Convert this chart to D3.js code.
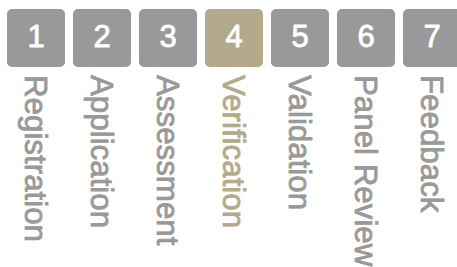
<!DOCTYPE html>
<html>
<head>
<meta charset="utf-8">
<script src="https://cdn.jsdelivr.net/npm/d3@7"></script>
<style>
  html, body { margin: 0; padding: 0; background: #fff; overflow: hidden; }
  svg { display: block; }
</style>
</head>
<body>
<script>
const stepNumbers = ["1", "2", "3", "4", "5", "6", "7"];
const stepLabels = ["Registration", "Application", "Assessment", "Verification", "Validation", "Panel Review", "Feedback"];
const activeStep = "4";

const W = 457, H = 267;
const boxTop = 9, boxSize = 58;
const fontSize = 31;
const labelSize = 31.3;
const capH = fontSize * 0.716;

const svg = d3.select("body").append("svg").attr("width", W).attr("height", H);

const x = d3.scaleBand()
  .domain(stepNumbers)
  .range([7, 7 + stepNumbers.length * 66 - 8])
  .paddingInner(8 / 66)
  .paddingOuter(0);

const grey = "#999999", tan = "#b4a98b";
const colorOf = d => d === activeStep ? tan : grey;

const g = svg.selectAll("g.step").data(stepNumbers.map((n, i) => ({ n, label: stepLabels[i] })))
  .enter().append("g").attr("class", "step");

g.append("rect")
  .attr("x", d => x(d.n))
  .attr("y", boxTop)
  .attr("width", x.bandwidth())
  .attr("height", boxSize)
  .attr("rx", 5).attr("ry", 5)
  .attr("fill", d => colorOf(d.n));

g.append("text")
  .attr("x", d => x(d.n) + x.bandwidth() / 2)
  .attr("y", boxTop + boxSize / 2 + capH / 2 - 2)
  .attr("text-anchor", "middle")
  .attr("font-family", "'Liberation Sans', Arial, Helvetica, sans-serif")
  .attr("font-size", fontSize)
  .attr("fill", "#ffffff")
  .attr("stroke", "#ffffff")
  .attr("stroke-width", 0.8)
  .attr("stroke-linejoin", "round")
  .text(d => d.n);

g.append("text")
  .attr("transform", d => {
    const bx = x(d.n) + x.bandwidth() / 2 - labelSize * 0.716 / 2;
    return `translate(${bx},75) rotate(90)`;
  })
  .attr("text-anchor", "start")
  .attr("font-family", "'Liberation Sans', Arial, Helvetica, sans-serif")
  .attr("font-size", labelSize)
  .attr("fill", d => colorOf(d.n))
  .attr("stroke", d => colorOf(d.n))
  .attr("stroke-width", 0.8)
  .attr("stroke-linejoin", "round")
  .text(d => d.label);
</script>
</body>
</html>
